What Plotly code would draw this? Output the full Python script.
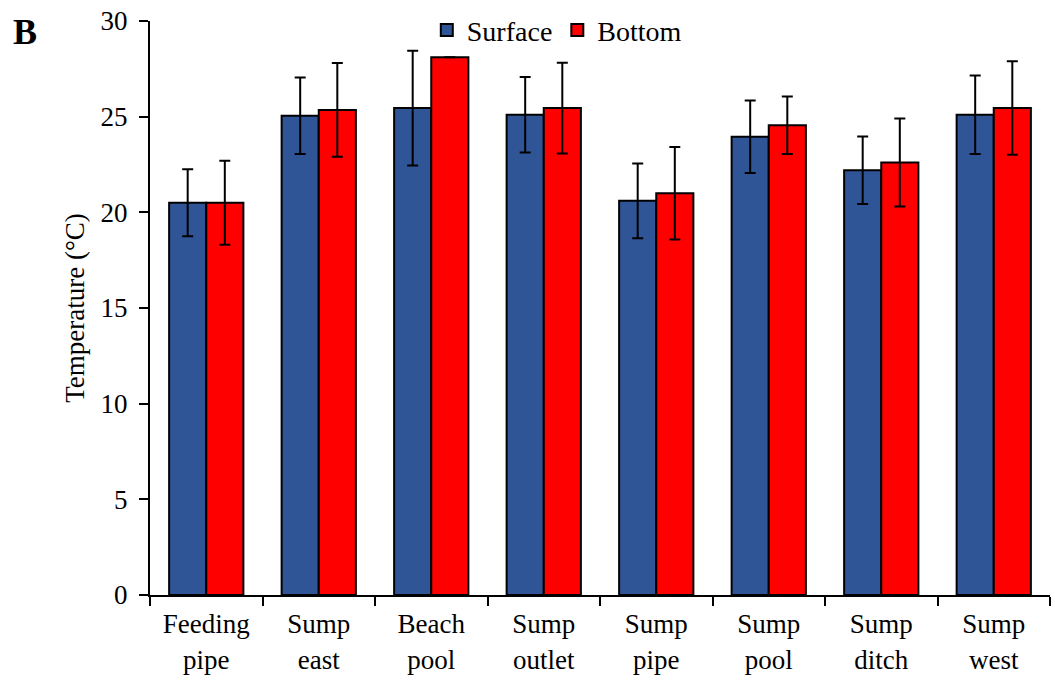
import plotly.graph_objects as go

# Sampling sites along the tailings system
sites = ["Feeding<br>pipe", "Sump<br>east", "Beach<br>pool", "Sump<br>outlet",
         "Sump<br>pipe", "Sump<br>pool", "Sump<br>ditch", "Sump<br>west"]

# Mean water temperature (°C) and standard deviation
surface_mean = [20.5, 25.05, 25.45, 25.1, 20.6, 23.95, 22.2, 25.1]
surface_sd = [1.75, 2.0, 3.0, 1.97, 1.95, 1.9, 1.76, 2.05]
bottom_mean = [20.5, 25.35, 28.1, 25.45, 21.0, 24.55, 22.6, 25.45]
bottom_sd = [2.2, 2.45, None, 2.37, 2.42, 1.5, 2.3, 2.44]

FONT = "Liberation Serif, Times New Roman, serif"
BLUE = "#2F5597"
RED = "#FF0000"

err_style = dict(type="data", color="black", thickness=2, width=5.5, visible=True)

fig = go.Figure()
fig.add_trace(go.Bar(
    name="Surface", x=sites, y=surface_mean,
    marker=dict(color=BLUE, line=dict(color="black", width=2)),
    error_y=dict(array=surface_sd, **err_style),
))
fig.add_trace(go.Bar(
    name="Bottom", x=sites, y=bottom_mean,
    marker=dict(color=RED, line=dict(color="black", width=2)),
    error_y=dict(array=bottom_sd, **err_style),
))

fig.update_layout(
    width=1055, height=681,
    margin=dict(l=150, r=5, t=21, b=86, autoexpand=False),
    paper_bgcolor="white", plot_bgcolor="white",
    font=dict(family=FONT, size=27, color="black"),
    barmode="group", bargap=0.34, bargroupgap=0,
    showlegend=True,
    legend=dict(orientation="h", x=0.452, xanchor="center", y=0.984, yanchor="middle",
                bgcolor="rgba(0,0,0,0)", font=dict(family=FONT, size=28),
                itemwidth=30, tracegroupgap=0),
    xaxis=dict(
        showline=True, linecolor="black", linewidth=2,
        ticks="outside", tickson="boundaries", ticklen=9, tickwidth=2, tickcolor="black",
        showgrid=False, tickfont=dict(family=FONT, size=27),
        ticklabelstandoff=4,
    ),
    yaxis=dict(
        range=[0, 30], dtick=5, tick0=0,
        showline=True, linecolor="black", linewidth=2,
        ticks="outside", ticklen=9, tickwidth=2, tickcolor="black",
        showgrid=False, zeroline=False,
        tickfont=dict(family=FONT, size=27),
        ticklabelstandoff=6,
        title=dict(text="Temperature (°C)", font=dict(family=FONT, size=27), standoff=8),
    ),
)

# Panel letter
fig.add_annotation(
    text="<b>B</b>", xref="paper", yref="paper", x=-0.139, y=0.981,
    xanchor="center", yanchor="middle", showarrow=False,
    font=dict(family=FONT, size=36, color="black"),
)

fig.write_html("out.html")
